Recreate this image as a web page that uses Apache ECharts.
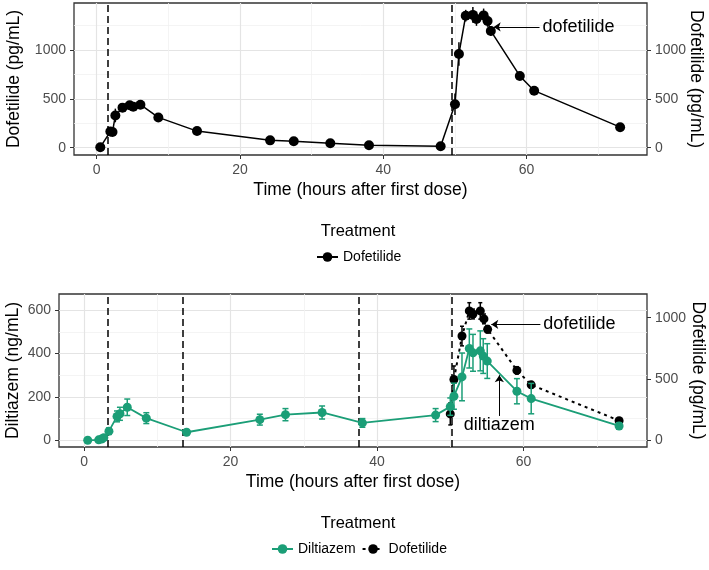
<!DOCTYPE html>
<html>
<head>
<meta charset="UTF-8">
<title>Diltiazem / dofetilide</title>
<script src="https://cdn.jsdelivr.net/npm/echarts@6/dist/echarts.min.js"></script>
</head>
<body style="margin:0">
<div id="main" style="width:709px;height:570px;"></div>
<script>
// top panel: dofetilide given alone
var topTime = [0.5, 1.9, 2.2, 2.6, 3.6, 4.6, 5.1, 6.1, 8.6, 14, 24.2, 27.5, 32.6, 38, 48, 50.0, 50.55, 51.5, 52.5, 53.0, 54.0, 54.55, 55.0, 59.05, 61.05, 73.05];
var topDof = [5, 165, 160, 330, 410, 435, 420, 440, 310, 170, 75, 65, 45, 25, 15, 444, 960, 1352, 1360, 1318, 1355, 1298, 1196, 735, 584, 210];
var topDofErr = [5, 30, 30, 70, 35, 25, 25, 25, 20, 15, 10, 10, 8, 6, 5, 110, 120, 60, 80, 70, 70, 60, 50, 30, 20, 10];
var topDoses = [1.6, 49.5];

// bottom panel: diltiazem + dofetilide
var dilTime = [0.5, 2.0, 2.4, 2.7, 3.4, 4.5, 4.9, 5.9, 8.5, 14, 24, 27.5, 32.5, 38, 48, 50.0, 50.5, 51.6, 52.6, 53.1, 54.1, 54.5, 55.05, 59.1, 61.05, 73.05];
var dil = [0, 2, 6, 12, 42, 110, 122, 152, 102, 37, 95, 118, 128, 80, 116, 155, 203, 292, 423, 403, 412, 388, 365, 226, 192, 66];
var dilErr = [3, 3, 4, 6, 15, 25, 30, 38, 25, 8, 25, 28, 30, 20, 30, 40, 60, 110, 90, 85, 92, 80, 80, 58, 70, 15];
var dofTime = [50.0, 50.5, 51.6, 52.6, 53.1, 54.1, 54.6, 55.1, 59.1, 61.05, 73.05];
var dof = [215, 496, 850, 1055, 1030, 1055, 990, 905, 570, 452, 160];
var dofErr = [90, 110, 80, 67, 40, 67, 40, 30, 30, 25, 15];
var botDoses = [3.3, 13.45, 37.45, 50.2];

// ticks
var xTicks = [0, 20, 40, 60];
var xMinor = [10, 30, 50, 70];
var dofTicks = [0, 500, 1000];
var dofMinor = [250, 750, 1250];
var dilTicks = [0, 200, 400, 600];
var dilMinor = [100, 300, 500];

var green = '#1b9e77';
var font = 'Liberation Sans';

function zip3(a, b, c) {
    var out = [];
    for (var i = 0; i < a.length; i++) out.push(c ? [a[i], b[i], c[i]] : [a[i], b[i]]);
    return out;
}

function errorBars(capW) {
    return function (params, api) {
        var x = api.value(0), y = api.value(1), e = api.value(2);
        var hi = api.coord([x, y + e]);
        var lo = api.coord([x, y - e]);
        var st = { stroke: api.visual('color'), lineWidth: 1.5 };
        var kids = [{ type: 'line', shape: { x1: hi[0], y1: hi[1], x2: lo[0], y2: lo[1] }, style: st }];
        if (capW) {
            kids.push({ type: 'line', shape: { x1: hi[0] - capW, y1: hi[1], x2: hi[0] + capW, y2: hi[1] }, style: st });
            kids.push({ type: 'line', shape: { x1: lo[0] - capW, y1: lo[1], x2: lo[0] + capW, y2: lo[1] }, style: st });
        }
        return { type: 'group', children: kids };
    };
}

function plain(v) { return String(v); }

function xAxis(grid, min, max, major) {
    return {
        type: 'value', gridIndex: grid, min: min, max: max,
        axisLine: { show: false, onZero: false },
        axisTick: major ? { show: true, length: 4, lineStyle: { color: '#333' }, customValues: xTicks } : { show: false, customValues: xMinor },
        axisLabel: major ? { show: true, customValues: xTicks, formatter: plain, color: '#4d4d4d', fontSize: 14, fontFamily: font, margin: 8 } : { show: false },
        splitLine: { show: true, lineStyle: major ? { color: '#e4e4e4', width: 1.2 } : { color: '#f1f1f1', width: 0.8 } },
        name: major ? 'Time (hours after first dose)' : '',
        nameLocation: 'middle', nameGap: 26, nameMoveOverlap: false,
        nameTextStyle: { color: '#000', fontSize: 17.5, fontFamily: font }
    };
}

function yAxis(grid, min, max, ticks, pos, opts) {
    return {
        type: 'value', gridIndex: grid, min: min, max: max, position: pos,
        axisLine: { show: false, onZero: false },
        axisTick: { show: opts.label, length: 4, lineStyle: { color: '#333' }, customValues: ticks },
        axisLabel: opts.label ? { show: true, customValues: ticks, formatter: plain, color: '#4d4d4d', fontSize: 14, fontFamily: font, margin: 8 } : { show: false },
        splitLine: { show: !!opts.split, lineStyle: opts.minor ? { color: '#f1f1f1', width: 0.8 } : { color: '#e4e4e4', width: 1.2 } },
        name: opts.name || '', nameLocation: 'middle', nameGap: opts.gap || 0, nameMoveOverlap: false,
        nameRotate: pos === 'right' ? -90 : 90,
        nameTextStyle: { color: '#000', fontSize: 17.5, fontFamily: font }
    };
}

function doseLines(xs) {
    return xs.map(function (v) { return { xAxis: v }; });
}

function arrow(from, to, text, dist) {
    return [
        { coord: from, symbol: 'none', lineStyle: { type: 'solid', width: 1, color: '#000' },
          label: { show: true, position: 'start', formatter: text, color: '#000', fontSize: 18, fontFamily: font, distance: dist } },
        { coord: to, symbol: 'arrow', symbolSize: 7 }
    ];
}

var markBase = {
    silent: true, symbol: ['none', 'none'], animation: false,
    label: { show: false },
    lineStyle: { type: [7, 4], color: '#000', width: 1.5 }
};

var myChart = echarts.init(document.getElementById('main'));
myChart.setOption({
    animation: false,
    textStyle: { fontFamily: font },
    title: [
        { text: 'Treatment', left: 358, top: 223, textAlign: 'center', padding: 0, textStyle: { fontSize: 16.5, fontWeight: 'normal', color: '#000' } },
        { text: 'Treatment', left: 358, top: 515, textAlign: 'center', padding: 0, textStyle: { fontSize: 16.5, fontWeight: 'normal', color: '#000' } }
    ],
    legend: [
        { data: ['Dofetilide'], left: 316, top: 250, padding: 0, itemWidth: 21, itemHeight: 12, itemGap: 6,
          textStyle: { fontSize: 14, color: '#000' } },
        { data: ['Diltiazem', 'Dofetilide '], left: 271, top: 542, padding: 0, itemWidth: 21, itemHeight: 12, itemGap: 6,
          formatter: function (n) { return n.trim(); },
          textStyle: { fontSize: 14, color: '#000' } }
    ],
    grid: [
        { left: 74, top: 3, width: 573, height: 152, show: true, borderColor: '#333', borderWidth: 1.3, outerBoundsMode: 'none', containLabel: false },
        { left: 59, top: 294, width: 588, height: 153, show: true, borderColor: '#333', borderWidth: 1.3, outerBoundsMode: 'none', containLabel: false }
    ],
    xAxis: [
        xAxis(0, -3.17, 76.8, true),
        xAxis(0, -3.17, 76.8, false),
        xAxis(1, -3.42, 76.86, true),
        xAxis(1, -3.42, 76.86, false)
    ],
    yAxis: [
        yAxis(0, -75, 1482, dofTicks, 'left', { label: true, split: true, name: 'Dofetilide (pg/mL)', gap: 51 }),
        yAxis(0, -75, 1482, dofTicks, 'right', { label: true, name: 'Dofetilide (pg/mL)', gap: 40 }),
        yAxis(0, -75, 1482, dofMinor, 'left', { label: false, split: true, minor: true }),
        yAxis(1, -31, 674, dilTicks, 'left', { label: true, split: true, name: 'Diltiazem (ng/mL)', gap: 37 }),
        yAxis(1, -55, 1193, dofTicks, 'right', { label: true, name: 'Dofetilide (pg/mL)', gap: 42 }),
        yAxis(1, -31, 674, dilMinor, 'left', { label: false, split: true, minor: true })
    ],
    series: [
        {
            name: 'topErr', type: 'custom', xAxisIndex: 0, yAxisIndex: 0,
            itemStyle: { color: '#000' }, renderItem: errorBars(0), data: zip3(topTime, topDof, topDofErr), z: 3
        },
        {
            name: 'Dofetilide', type: 'line', xAxisIndex: 0, yAxisIndex: 0,
            data: zip3(topTime, topDof),
            symbol: 'circle', symbolSize: 10, color: '#000',
            itemStyle: { color: '#000' }, lineStyle: { color: '#000', width: 1.5 }, z: 4,
            markLine: Object.assign({}, markBase, {
                data: doseLines(topDoses).concat([arrow([61.8, 1237], [55.4, 1237], 'dofetilide', 3)])
            })
        },
        {
            name: 'dilErr', type: 'custom', xAxisIndex: 2, yAxisIndex: 3,
            itemStyle: { color: green }, renderItem: errorBars(3), data: zip3(dilTime, dil, dilErr), z: 5
        },
        {
            name: 'Diltiazem', type: 'line', xAxisIndex: 2, yAxisIndex: 3,
            data: zip3(dilTime, dil),
            symbol: 'circle', symbolSize: 9, color: green,
            itemStyle: { color: green }, lineStyle: { color: green, width: 1.8 }, z: 6,
            markLine: Object.assign({}, markBase, {
                data: doseLines(botDoses).concat([arrow([56.7, 112], [56.7, 300], 'diltiazem', 0)])
            })
        },
        {
            name: 'dofErr', type: 'custom', xAxisIndex: 2, yAxisIndex: 4,
            itemStyle: { color: '#000' }, renderItem: errorBars(2), data: zip3(dofTime, dof, dofErr), z: 3
        },
        {
            name: 'Dofetilide ', type: 'line', xAxisIndex: 2, yAxisIndex: 4,
            data: zip3(dofTime, dof),
            symbol: 'circle', symbolSize: 9, color: '#000',
            itemStyle: { color: '#000' }, lineStyle: { color: '#000', width: 2, type: [3, 4] }, z: 4,
            markLine: Object.assign({}, markBase, {
                data: [arrow([62.3, 945], [55.6, 945], 'dofetilide', 3)]
            })
        }
    ]
});
</script>
</body>
</html>
